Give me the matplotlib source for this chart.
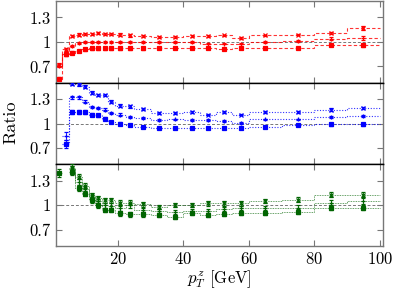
import numpy as np
import matplotlib
matplotlib.use('Agg')
import matplotlib.pyplot as plt

plt.rcParams['font.family'] = 'serif'
plt.rcParams['font.serif'] = ['cmr10', 'DejaVu Serif']
plt.rcParams['mathtext.fontset'] = 'cm'
plt.rcParams['axes.formatter.use_mathtext'] = True

# bin edges in pT^Z [GeV]
edges = np.array([1, 3, 5, 7, 9, 11, 13, 15, 17, 19, 22.5, 25, 30, 35, 40, 45, 50, 55, 60, 70, 80, 90, 100])
centers = 0.5 * (edges[1:] + edges[:-1])

nan = np.nan

# top panel (red)
red_a = [0.72, 0.91, 1.07, 1.09, 1.10, 1.10, 1.11, 1.10, 1.10, 1.09, 1.08, 1.07, 1.06, 1.06, 1.07, 1.07, 1.08, 1.05, 1.08, 1.09, 1.11, 1.17]
red_b = [0.71, 0.85, 0.95, 0.99, 1.00, 1.00, 1.00, 1.00, 1.00, 1.00, 1.00, 1.00, 1.00, 1.00, 1.00, 0.98, 0.98, 0.98, 1.00, 1.01, 1.04, 1.05]
red_c = [0.55, 0.85, 0.87, 0.89, 0.91, 0.92, 0.92, 0.92, 0.92, 0.92, 0.92, 0.92, 0.92, 0.92, 0.92, 0.92, 0.91, 0.92, 0.93, 0.93, 0.96, 0.96]
red_err = [0.02, 0.02, 0.015, 0.015, 0.015, 0.015, 0.015, 0.015, 0.015, 0.015, 0.015, 0.015, 0.01, 0.01, 0.01, 0.01, 0.01, 0.01, 0.01, 0.01, 0.015, 0.02]

# middle panel (blue)
blue_a = [nan, nan, 1.49, 1.48, 1.45, 1.38, 1.35, 1.35, 1.27, 1.22, 1.21, 1.18, 1.13, 1.13, 1.14, 1.11, 1.14, 1.11, 1.14, 1.14, 1.17, 1.19]
blue_b = [nan, 0.85, 1.32, 1.32, 1.27, 1.20, 1.19, 1.17, 1.13, 1.11, 1.08, 1.07, 1.04, 1.05, 1.04, 1.04, 1.03, 1.01, 1.05, 1.05, 1.08, 1.09]
blue_c = [nan, 0.75, 1.14, 1.14, 1.14, 1.11, 1.10, 1.06, 1.02, 1.00, 0.98, 0.96, 0.95, 0.95, 0.95, 0.95, 0.95, 0.94, 0.96, 0.98, 0.99, 0.99]
blue_err = [0.05, 0.05, 0.02, 0.02, 0.02, 0.015, 0.015, 0.015, 0.015, 0.015, 0.015, 0.015, 0.01, 0.01, 0.01, 0.01, 0.01, 0.01, 0.01, 0.01, 0.015, 0.015]

# bottom panel (green)
green_a = [nan, nan, 1.46, 1.35, 1.24, 1.12, 1.085, 1.06, 1.06, 1.03, 1.03, 1.01, 0.98, 1.00, 1.00, 1.02, 1.02, 1.02, 1.045, 1.065, 1.125, 1.13]
green_b = [nan, nan, 1.44, 1.28, 1.20, 1.10, 1.05, 1.00, 0.99, 0.96, 1.00, 0.94, 0.93, 0.91, 0.93, 0.93, 0.95, 0.96, 0.97, 0.97, 1.03, 1.05]
green_c = [1.39, nan, 1.41, 1.21, 1.14, 1.06, 1.00, 0.94, 0.94, 0.90, 0.89, 0.89, 0.88, 0.85, 0.90, 0.88, 0.89, 0.90, 0.90, 0.92, 0.97, 0.97]
green_err = [0.05, 0.05, 0.04, 0.035, 0.03, 0.03, 0.03, 0.03, 0.03, 0.03, 0.03, 0.03, 0.025, 0.025, 0.025, 0.025, 0.025, 0.025, 0.025, 0.03, 0.03, 0.035]

panels = [
    ('#ff0000', (0, (3, 2)), 0.8, [red_a, red_b, red_c], red_err),
    ('#0000ff', (0, (1, 1.5)), 0.8, [blue_a, blue_b, blue_c], blue_err),
    ('#006400', (0, (1, 1)), 0.6, [green_a, green_b, green_c], green_err),
]
markers = ['x', '+', 's']
grey = '#777777'

fig, axes = plt.subplots(3, 1, sharex=True, figsize=(3.96, 2.91), dpi=100)
fig.subplots_adjust(left=0.141, right=0.967, top=0.996, bottom=0.155, hspace=0)

for i, (ax, (col, ls, lw, series, err)) in enumerate(zip(axes, panels)):
    ax.axhline(1.0, color=grey, lw=0.7, ls=(0, (3, 2)), zorder=1)
    for vals, mk in zip(series, markers):
        vals = np.array(vals, dtype=float)
        ax.stairs(vals, edges, baseline=None, color=col, ls=ls, lw=lw, alpha=0.8, zorder=2)
        ax.errorbar(centers, vals, yerr=err, fmt=mk, color=col, ms=3.0, mew=0.9,
                    elinewidth=0.6, capsize=1.5, capthick=0.6, ls='none', zorder=3)
    ax.set_ylim(0.5, 1.5)
    ax.set_xlim(1, 101)
    ax.set_yticks([0.7, 1.0, 1.3])
    ax.set_yticklabels(['0.7', '1', '1.3'])
    ax.tick_params(direction='in', top=True, right=True, length=4, width=0.8,
                   color=grey, labelsize=12)
    for s in ax.spines.values():
        s.set_color(grey)
        s.set_linewidth(1.0)
    if i > 0:
        ax.spines['top'].set_color('black')
    if i < 2:
        ax.spines['bottom'].set_color('black')

axes[2].set_xticks([20, 40, 60, 80, 100])
axes[2].set_xlabel(r'$p_T^z$ [GeV]', fontsize=12, labelpad=1)
fig.text(0.028, 0.579, 'Ratio', rotation=90, fontsize=13, ha='center', va='center')

fig.savefig('out.png', dpi=100)
